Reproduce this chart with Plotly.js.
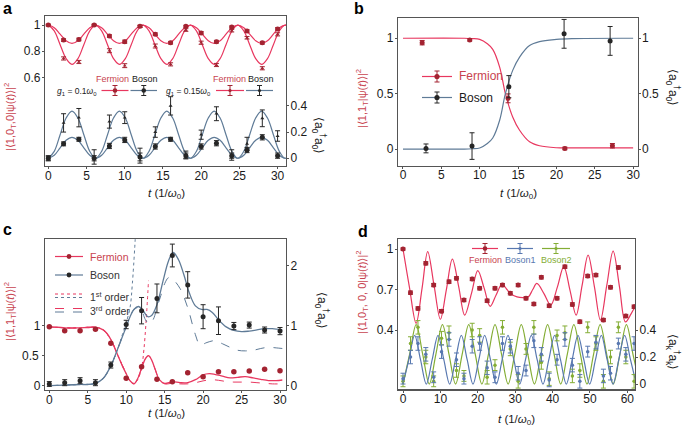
<!DOCTYPE html>
<html lang="en">
<head>
<meta charset="UTF-8">
<title>Fermion and boson dynamics</title>
<script src="https://cdn.plot.ly/plotly-3.0.1.min.js"></script>
<style>
  html, body { margin: 0; padding: 0; background: #fff; }
  #chart { width: 685px; height: 428px; }
</style>
</head>
<body>
<div id="chart"></div>
<script>
// ---------- panel a ----------
const aFitT = [0, 0.78, 1.55, 2.33, 3.1, 3.88, 4.65, 5.43, 6.2, 6.98, 7.75, 8.53, 9.3, 10.08, 10.85, 11.63, 12.4, 13.18, 13.95, 14.73, 15.5, 16.28, 17.05, 17.83, 18.6, 19.38, 20.15, 20.93, 21.7, 22.48, 23.25, 24.03, 24.8, 25.58, 26.35, 27.13, 27.9, 28.68, 29.45, 30.23, 31.0, 31.78];
const aFermFit1 = [1, 0.98, 0.93, 0.88, 0.86, 0.88, 0.93, 0.98, 1, 0.98, 0.93, 0.88, 0.86, 0.88, 0.93, 0.98, 1, 0.98, 0.93, 0.88, 0.86, 0.88, 0.93, 0.98, 1, 0.98, 0.93, 0.88, 0.86, 0.88, 0.93, 0.98, 1, 0.98, 0.93, 0.88, 0.86, 0.88, 0.93, 0.98, 1, 0.98];
const aFermFit2 = [1, 0.956, 0.85, 0.744, 0.7, 0.744, 0.85, 0.956, 1, 0.956, 0.85, 0.744, 0.7, 0.744, 0.85, 0.956, 1, 0.956, 0.85, 0.744, 0.7, 0.744, 0.85, 0.956, 1, 0.956, 0.85, 0.744, 0.7, 0.744, 0.85, 0.956, 1, 0.956, 0.85, 0.744, 0.7, 0.744, 0.85, 0.956, 1, 0.956];
const aBosFit1 = [0, 0.023, 0.08, 0.137, 0.16, 0.137, 0.08, 0.023, 0, 0.023, 0.08, 0.137, 0.16, 0.137, 0.08, 0.023, 0, 0.023, 0.08, 0.137, 0.16, 0.137, 0.08, 0.023, 0, 0.023, 0.08, 0.137, 0.16, 0.137, 0.08, 0.023, 0, 0.023, 0.08, 0.137, 0.16, 0.137, 0.08, 0.023, 0, 0.023];
const aBosFit2 = [0, 0.053, 0.18, 0.307, 0.36, 0.307, 0.18, 0.053, 0, 0.053, 0.18, 0.307, 0.36, 0.307, 0.18, 0.053, 0, 0.053, 0.18, 0.307, 0.36, 0.307, 0.18, 0.053, 0, 0.053, 0.18, 0.307, 0.36, 0.307, 0.18, 0.053, 0, 0.053, 0.18, 0.307, 0.36, 0.307, 0.18, 0.053, 0, 0.053];

const aT = [0, 2, 4, 6, 8, 10, 12, 14, 16, 18, 20, 22, 24, 26, 28, 30];
const aFerm1 = [1.0, 0.885, 0.89, 1.0, 0.916, 0.873, 0.99, 0.93, 0.865, 0.99, 0.94, 0.873, 0.985, 0.954, 0.865, 0.97];
const aFerm1Err = [0.006, 0.01, 0.01, 0.006, 0.01, 0.012, 0.008, 0.01, 0.01, 0.008, 0.01, 0.01, 0.008, 0.01, 0.01, 0.01];
const aFerm2 = [1.0, 0.745, 0.718, 1.0, 0.804, 0.69, 0.99, 0.84, 0.7, 0.962, 0.865, 0.695, 0.957, 0.903, 0.67, 0.929];
const aFerm2Err = [0.006, 0.012, 0.012, 0.006, 0.015, 0.015, 0.008, 0.015, 0.012, 0.01, 0.012, 0.012, 0.01, 0.01, 0.012, 0.012];
const aBos1 = [0, 0.11, 0.145, 0, 0.094, 0.14, 0.01, 0.09, 0.145, 0.02, 0.09, 0.115, 0.02, 0.063, 0.16, 0.02];
const aBos1Err = [0.015, 0.015, 0.015, 0.02, 0.02, 0.02, 0.03, 0.02, 0.015, 0.02, 0.02, 0.02, 0.02, 0.02, 0.02, 0.02];
const aBos2 = [0, 0.27, 0.31, 0.01, 0.28, 0.31, 0.02, 0.2, 0.4, 0.025, 0.18, 0.34, 0.025, 0.11, 0.305, 0.17];
const aBos2Err = [0.02, 0.07, 0.07, 0.055, 0.05, 0.045, 0.057, 0.04, 0.07, 0.03, 0.035, 0.053, 0.04, 0.05, 0.064, 0.04];

// ---------- panel b ----------
const bFitT = [0, 8, 9, 10, 11, 11.7, 12.6, 13.35, 14.3, 15.2, 16.5, 17.8, 20, 22, 30];
const bFermFit = [1, 1, 0.997, 0.99, 0.95, 0.9, 0.74, 0.5, 0.29, 0.17, 0.066, 0.03, 0.012, 0.01, 0.01];
const bBosFit = [0, 0, 0.003, 0.01, 0.05, 0.1, 0.26, 0.5, 0.71, 0.83, 0.934, 0.97, 0.99, 0.997, 1];
const bFermT = [2.5, 8.7, 13.7, 21.1, 27.3];
const bFerm = [0.96, 0.985, 0.458, 0.006, 0.03];
const bFermErr = [0.02, 0.01, 0.04, 0.012, 0.02];
const bBosT = [3, 9, 13.8, 21, 27];
const bBos = [0.006, 0.027, 0.563, 1.04, 0.976];
const bBosErr = [0.04, 0.12, 0.1, 0.13, 0.13];

// ---------- panel c ----------
const cT = [0, 2, 4, 6, 8, 10, 12, 14, 16, 18, 20, 22, 24, 26, 28, 30];
const cFerm = [0.983, 0.917, 0.917, 0.94, 0.706, 0.122, 0.317, 0.106, 0.067, 0.217, 0.15, 0.233, 0.233, 0.244, 0.272, 0.25];
const cBos = [0.028, 0.05, 0.083, 0.05, 0.344, 1.02, 1.25, 1.455, 2.17, 1.68, 1.15, 1.083, 0.994, 1.01, 0.928, 0.91];
const cBosErr = [0.04, 0.05, 0.05, 0.05, 0.05, 0.07, 0.22, 0.24, 0.19, 0.22, 0.2, 0.23, 0.06, 0.05, 0.05, 0.06];

const cFermFitT = [0, 1, 2, 3, 4, 5, 6, 7, 7.5, 8, 8.5, 9, 9.5, 10, 10.5, 11, 11.5, 12, 12.5, 12.9, 13.3, 13.8, 14.3, 15, 16, 17, 18, 19, 20, 20.8, 21.5, 22.5, 23.5, 24.5, 25.5, 26.5, 27.5, 28.5, 29.5, 30.3];
const cFermFit = [0.98, 0.975, 0.965, 0.96, 0.965, 0.97, 0.975, 0.93, 0.87, 0.77, 0.63, 0.48, 0.33, 0.2, 0.08, 0.03, 0.12, 0.29, 0.45, 0.5, 0.43, 0.26, 0.1, 0.04, 0.067, 0.05, 0.05, 0.1, 0.18, 0.2, 0.19, 0.16, 0.13, 0.14, 0.15, 0.13, 0.105, 0.085, 0.085, 0.095];
const cFerm3T = [0, 2, 4, 6, 7, 8, 9, 10, 10.5, 11, 11.5, 12, 12.5, 12.9, 13.3, 13.8, 14.3, 15, 16, 17, 18, 19, 20, 21, 22, 23, 24, 25, 26, 27, 28, 29, 30.3];
const cFerm3 = [0.98, 0.965, 0.965, 0.975, 0.93, 0.77, 0.48, 0.2, 0.08, 0.03, 0.12, 0.29, 0.45, 0.5, 0.43, 0.26, 0.1, 0.03, 0.04, 0.03, 0.03, 0.05, 0.08, 0.1, 0.09, 0.07, 0.06, 0.06, 0.06, 0.05, 0.04, 0.03, 0.03];
const cFerm1T = [0, 2, 4, 6, 7, 8, 9, 10, 10.5, 11, 11.5, 12, 12.3, 12.6, 12.9];
const cFerm1 = [0.98, 0.965, 0.965, 0.975, 0.93, 0.77, 0.48, 0.2, 0.08, 0.04, 0.1, 0.3, 0.6, 1.1, 1.75];

const cBosFitT = [0, 2, 4, 5, 6, 7, 8, 9, 10, 10.5, 11, 11.6, 12.2, 12.8, 13.3, 14, 14.8, 15.5, 16.1, 16.8, 17.5, 18.2, 19, 19.8, 20.5, 21.2, 22, 23, 24, 25, 26, 27, 28, 29, 30.3];
const cBosFit = [0, 0.01, 0.02, 0.02, 0.04, 0.12, 0.33, 0.65, 0.98, 1.15, 1.27, 1.32, 1.25, 1.15, 1.17, 1.35, 1.75, 2.08, 2.22, 2.1, 1.85, 1.55, 1.33, 1.27, 1.27, 1.22, 1.1, 0.98, 0.92, 0.9, 0.91, 0.93, 0.95, 0.95, 0.93];
const cBos3T = [0, 2, 4, 5, 6, 7, 8, 9, 10, 10.5, 11, 11.5, 12, 12.5, 13, 13.5, 14, 14.5, 15, 15.5, 16, 17, 18, 19, 19.6, 20.5, 21.5, 22.5, 23.5, 24.5, 25.5, 26.5, 27.5, 28.5, 29.5, 30.3];
const cBos3 = [0, 0.01, 0.02, 0.02, 0.04, 0.12, 0.33, 0.65, 0.98, 1.15, 1.27, 1.3, 1.25, 1.1, 1.03, 1.1, 1.3, 1.5, 1.7, 1.8, 1.78, 1.62, 1.3, 0.85, 0.68, 0.72, 0.75, 0.7, 0.64, 0.59, 0.58, 0.59, 0.62, 0.64, 0.63, 0.62];
const cBos1T = [0, 2, 4, 6, 7, 8, 9, 9.5, 10, 10.5, 10.8, 11.2];
const cBos1 = [0, 0.01, 0.02, 0.04, 0.12, 0.33, 0.65, 0.85, 1.05, 1.3, 1.7, 2.5];

// ---------- panel d ----------
const dT = [0, 2, 4, 6.1, 8.2, 10.3, 12.3, 14.3, 16.3, 18.5, 20.5, 22.5, 24.6, 26.6, 28.7, 30.8, 32.9, 35, 37, 39.1, 41.2, 43.3, 45.3, 47.3, 49.4, 51.6, 53.6, 55.5, 57.6, 59.6, 61.8];
const dFerm = [1.0, 0.677, 0.56, 0.894, 0.733, 0.54, 0.758, 0.783, 0.622, 0.778, 0.709, 0.617, 0.709, 0.733, 0.672, 0.733, 0.635, 0.593, 0.79, 0.58, 0.635, 0.869, 0.59, 0.462, 0.8, 0.807, 0.474, 0.716, 0.864, 0.504, 0.573];
const dFermErr = [0.008, 0.012, 0.012, 0.012, 0.012, 0.012, 0.012, 0.012, 0.012, 0.012, 0.012, 0.012, 0.012, 0.012, 0.012, 0.012, 0.012, 0.012, 0.012, 0.012, 0.012, 0.012, 0.012, 0.012, 0.012, 0.012, 0.012, 0.012, 0.012, 0.012, 0.012];
const dBos1 = [0.04, 0.2, 0.3, 0.22, 0.05, 0.24, 0.33, 0.18, 0.04, 0.28, 0.3, 0.12, 0.05, 0.3, 0.28, 0.08, 0.1, 0.32, 0.22, 0.03, 0.18, 0.33, 0.14, 0.02, 0.24, 0.31, 0.06, 0.08, 0.3, 0.22, 0.3];
const dBos1Err = [0.04, 0.05, 0.05, 0.05, 0.04, 0.05, 0.05, 0.05, 0.04, 0.05, 0.05, 0.05, 0.04, 0.05, 0.05, 0.05, 0.04, 0.05, 0.05, 0.05, 0.04, 0.05, 0.05, 0.05, 0.04, 0.05, 0.05, 0.05, 0.04, 0.05, 0.05];
const dBos2 = [0.02, 0.3, 0.42, 0.2, 0.02, 0.34, 0.38, 0.1, 0.06, 0.4, 0.36, 0.05, 0.14, 0.42, 0.26, 0.02, 0.26, 0.42, 0.16, 0.04, 0.36, 0.38, 0.06, 0.1, 0.42, 0.3, 0.02, 0.2, 0.42, 0.2, 0.02];
const dBos2Err = [0.04, 0.05, 0.05, 0.05, 0.04, 0.05, 0.05, 0.05, 0.04, 0.05, 0.05, 0.05, 0.04, 0.05, 0.05, 0.05, 0.04, 0.05, 0.05, 0.05, 0.04, 0.05, 0.05, 0.05, 0.04, 0.05, 0.05, 0.05, 0.04, 0.05, 0.05];

const dFermFitT = [0, 1.7, 3.5, 5.1, 6.6, 8.3, 10, 11.6, 13.2, 14.9, 16.5, 18.3, 20, 21.7, 23.3, 24.9, 26.5, 27.8, 29, 30.5, 32, 33.5, 34.7, 35.8, 37.7, 39.5, 41.3, 43, 44.7, 46.3, 47.9, 49.5, 51.2, 52.8, 54.5, 56.2, 57.9, 59.5, 61, 62.2];
const dFermFit = [1.0, 0.72, 0.45, 0.71, 0.98, 0.73, 0.48, 0.7, 0.925, 0.72, 0.51, 0.67, 0.84, 0.71, 0.575, 0.66, 0.74, 0.7, 0.665, 0.645, 0.64, 0.645, 0.7, 0.745, 0.67, 0.585, 0.72, 0.87, 0.69, 0.51, 0.73, 0.955, 0.72, 0.474, 0.73, 0.985, 0.72, 0.46, 0.52, 0.58];
const dBos1FitT = [0, 1.56, 3.12, 4.68, 6.24, 7.8, 9.36, 10.92, 12.48, 14.04, 15.6, 17.16, 18.72, 20.28, 21.84, 23.4, 24.96, 26.52, 28.08, 29.64, 31.2, 32.76, 34.32, 35.88, 37.44, 39.0, 40.56, 42.12, 43.68, 45.24, 46.8, 48.36, 49.92, 51.48, 53.04, 54.6, 56.16, 57.72, 59.28, 60.84, 62.4];
const dBos1Fit = [0, 0.18, 0.36, 0.18, 0, 0.18, 0.36, 0.18, 0, 0.18, 0.36, 0.18, 0, 0.18, 0.36, 0.18, 0, 0.18, 0.36, 0.18, 0, 0.18, 0.36, 0.18, 0, 0.18, 0.36, 0.18, 0, 0.18, 0.36, 0.18, 0, 0.18, 0.36, 0.18, 0, 0.18, 0.36, 0.18, 0];
const dBos2FitT = [0, 1.76, 3.52, 5.27, 7.03, 8.79, 10.55, 12.3, 14.06, 15.82, 17.58, 19.33, 21.09, 22.85, 24.61, 26.36, 28.12, 29.88, 31.64, 33.39, 35.15, 36.91, 38.67, 40.42, 42.18, 43.94, 45.7, 47.45, 49.21, 50.97, 52.73, 54.48, 56.24, 58.0, 59.76, 61.51, 63.27];
const dBos2Fit = [0, 0.22, 0.44, 0.22, 0, 0.22, 0.44, 0.22, 0, 0.22, 0.44, 0.22, 0, 0.22, 0.44, 0.22, 0, 0.22, 0.44, 0.22, 0, 0.22, 0.44, 0.22, 0, 0.22, 0.44, 0.22, 0, 0.22, 0.44, 0.22, 0, 0.22, 0.44, 0.22, 0];

// colours
const RED = '#e8375f';
const RED_DOT = '#a32331';
const RED_TXT = '#c8434f';
const SLATE = '#5f7b97';
const DARK = '#262626';
const B1 = '#5878b0';
const B2 = '#84ad35';

const W = 685, H = 428;
const FONT = 'Liberation Sans, Arial, sans-serif';
const px = x => x / W;
const py = y => 1 - y / H;

function fit(x, y, color, xa, ya, dash, width) {
  return { x: x, y: y, xaxis: xa, yaxis: ya, type: 'scatter', mode: 'lines',
    line: { color: color, width: width || 1.2, shape: 'spline', dash: dash || 'solid' },
    hoverinfo: 'skip', showlegend: false };
}
function pts(x, y, err, color, xa, ya, size, symbol) {
  const t = { x: x, y: y, xaxis: xa, yaxis: ya, type: 'scatter', mode: 'markers',
    marker: { color: color, size: size || 5, symbol: symbol || 'circle' },
    showlegend: false };
  if (err) t.error_y = { type: 'data', array: err, color: color, thickness: 1, width: 2.5 };
  return t;
}

const data = [
  // a
  fit(aFitT, aFermFit1, RED, 'x', 'y'),
  fit(aFitT, aFermFit2, RED, 'x', 'y'),
  fit(aFitT, aBosFit1, SLATE, 'x', 'y2'),
  fit(aFitT, aBosFit2, SLATE, 'x', 'y2'),
  pts(aT, aFerm1, aFerm1Err, RED_DOT, 'x', 'y', 5),
  pts(aT, aFerm2, aFerm2Err, RED_DOT, 'x', 'y', 3.5, 'triangle-up'),
  pts(aT, aBos1, aBos1Err, DARK, 'x', 'y2', 5),
  pts(aT, aBos2, aBos2Err, DARK, 'x', 'y2', 3.5, 'triangle-up'),
  // b
  fit(bFitT, bFermFit, RED, 'x2', 'y3'),
  fit(bFitT, bBosFit, SLATE, 'x2', 'y4'),
  pts(bFermT, bFerm, bFermErr, RED_DOT, 'x2', 'y3', 5),
  pts(bBosT, bBos, bBosErr, DARK, 'x2', 'y4', 5),
  // c
  fit(cFerm1T, cFerm1, RED, 'x3', 'y5', 'dot', 1),
  fit(cFerm3T, cFerm3, RED, 'x3', 'y5', 'dash', 1),
  fit(cFermFitT, cFermFit, RED, 'x3', 'y5', 'solid', 1.3),
  fit(cBos1T, cBos1, SLATE, 'x3', 'y6', 'dot', 1),
  fit(cBos3T, cBos3, SLATE, 'x3', 'y6', 'dash', 1),
  fit(cBosFitT, cBosFit, SLATE, 'x3', 'y6', 'solid', 1.3),
  pts(cT, cFerm, null, RED_DOT, 'x3', 'y5', 5.5),
  pts(cT, cBos, cBosErr, DARK, 'x3', 'y6', 5),
  // d
  fit(dBos2FitT, dBos2Fit, B2, 'x4', 'y8'),
  fit(dBos1FitT, dBos1Fit, B1, 'x4', 'y8'),
  fit(dFermFitT, dFermFit, RED, 'x4', 'y7'),
  pts(dT, dBos2, dBos2Err, B2, 'x4', 'y8', 3.5),
  pts(dT, dBos1, dBos1Err, B1, 'x4', 'y8', 3.5),
  pts(dT, dFerm, dFermErr, RED_DOT, 'x4', 'y7', 5)
];

const tickFont = { family: FONT, size: 12, color: '#1a1a1a' };
function xax(dom, anchor, range, step) {
  return { domain: dom, anchor: anchor, range: range, dtick: step, tick0: 0,
    showgrid: false, zeroline: false, showline: true, mirror: true, linecolor: '#555', linewidth: 1.2,
    ticks: 'outside', ticklen: 2, tickcolor: '#555', tickfont: tickFont, ticklabelstandoff: -4,
    ticklabeloverflow: 'allow' };
}
function yax(dom, anchor, range, vals, labels) {
  return { domain: dom, anchor: anchor, range: range, tickmode: 'array', tickvals: vals,
    ticktext: labels || vals.map(String), ticklabeloverflow: 'allow',
    showgrid: false, zeroline: false, showline: true, linecolor: '#555', linewidth: 1.2,
    ticks: 'outside', ticklen: 2, tickcolor: '#555', tickfont: tickFont, ticklabelstandoff: -1 };
}
function yaxR(over, anchor, range, vals) {
  const a = yax(undefined, anchor, range, vals);
  delete a.domain;
  a.overlaying = over;
  a.side = 'right';
  return a;
}

const domAx = [px(45), px(286)], domBx = [px(398), px(637.5)];
const domDx = [px(398), px(635)];

// annotations
const ann = [];
function txt(x, y, s, opts) {
  ann.push(Object.assign({ xref: 'paper', yref: 'paper', x: px(x), y: py(y), text: s, showarrow: false,
    xanchor: 'center', yanchor: 'middle', font: { family: FONT, size: 12, color: '#1a1a1a' } }, opts || {}));
}
const tTitle = '<i>t</i> (1/<i>ω</i><sub>0</sub>)';
const nTitle = '⟨a<sub>0</sub><sup>†</sup>a<sub>0</sub>⟩';
const fTitle = () => ({ textangle: -90, font: { family: FONT, size: 11, color: RED_TXT } });
const xtFont = { font: { family: FONT, size: 11.5, color: '#1a1a1a' } };
// panel letters
[['a', 8, 8], ['b', 359, 8], ['c', 8, 229], ['d', 363, 232]].forEach(l =>
  txt(l[1], l[2], '<b>' + l[0] + '</b>', { font: { family: FONT, size: 16, color: '#000' } }));
// axis titles
txt(166, 194, tTitle, xtFont);
txt(518, 194, tTitle, xtFont);
txt(166, 414, tTitle, xtFont);
txt(516, 420, tTitle, xtFont);
txt(10, 117, '|⟨1,0<sub>T</sub>,0|ψ(<i>t</i>)⟩|<sup>2</sup>', fTitle());
txt(362, 99, '|⟨1,1<sub>T</sub>|ψ(<i>t</i>)⟩|<sup>2</sup>', fTitle());
txt(10, 312, '|⟨1,1<sub>T</sub>|ψ(<i>t</i>)⟩|<sup>2</sup>', fTitle());
txt(362, 292, '|⟨1,0<sub>T</sub>, 0, 0|ψ(<i>t</i>)⟩|<sup>2</sup>', fTitle());
txt(319, 135, nTitle, { textangle: 90 });
txt(673, 87, nTitle, { textangle: 90 });
txt(322, 310, nTitle, { textangle: 90 });
txt(673, 352, '⟨a<sub>k</sub><sup>†</sup>a<sub>k</sub>⟩', { textangle: 90 });
// middle tick label of panel c's left axis (0.5 sits 60 px above 0)
txt(41, 355.7, '0.5', { xanchor: 'right', font: tickFont });

// legend drawings
const shapes = [];
function seg(x0, y0, x1, y1, color, dash, w) {
  shapes.push({ type: 'line', xref: 'paper', yref: 'paper', x0: px(x0), y0: py(y0), x1: px(x1), y1: py(y1),
    line: { color: color, width: w || 1.2, dash: dash || 'solid' } });
}
function dot(x, y, r, color) {
  shapes.push({ type: 'circle', xref: 'paper', yref: 'paper', x0: px(x - r), x1: px(x + r), y0: py(y + r), y1: py(y - r),
    fillcolor: color, line: { color: color, width: 0 } });
}
function sample(x0, x1, y, lineColor, markColor, eh, r) {
  seg(x0, y, x1, y, lineColor);
  const xc = (x0 + x1) / 2;
  if (eh) {
    seg(xc, y - eh, xc, y + eh, markColor, 'solid', 1);
    seg(xc - 2.5, y - eh, xc + 2.5, y - eh, markColor, 'solid', 1);
    seg(xc - 2.5, y + eh, xc + 2.5, y + eh, markColor, 'solid', 1);
  }
  dot(xc, y, r || 2.3, markColor);
}
const legFont = (c, s) => ({ family: FONT, size: s || 9, color: c });
// a
txt(113, 79, 'Fermion', { font: legFont(RED_TXT) });
txt(145, 79, 'Boson', { font: legFont('#1a1a1a') });
sample(101.5, 128.5, 90.5, RED, RED_DOT, 5, 2.3);
sample(130.5, 157, 90.5, SLATE, DARK, 5, 2.3);
txt(99, 91, '<i>g</i><sub>1</sub> = 0.1<i>ω</i><sub>0</sub>', { xanchor: 'right', font: legFont('#1a1a1a', 8.5) });
txt(229, 79, 'Fermion', { font: legFont(RED_TXT) });
txt(261, 79, 'Boson', { font: legFont('#1a1a1a') });
sample(216, 244, 90.5, RED, RED_DOT, 5, 1.6);
sample(246, 273, 90.5, SLATE, DARK, 5, 1.6);
txt(213, 91, '<i>g</i><sub>1</sub> = 0.15<i>ω</i><sub>0</sub>', { xanchor: 'right', font: legFont('#1a1a1a', 8.5) });
// b
sample(422, 452, 76.5, RED, RED_DOT, 5.5, 2.6);
sample(422, 452, 97.5, SLATE, DARK, 5.5, 2.6);
txt(457, 76.5, 'Fermion', { xanchor: 'left', font: legFont(RED_TXT, 12) });
txt(457, 97.5, 'Boson', { xanchor: 'left', font: legFont('#1a1a1a', 12) });
// c
sample(55, 83, 256.5, RED, RED_DOT, 0, 2.4);
sample(55, 83, 275, SLATE, DARK, 0, 2.4);
txt(88, 256.5, 'Fermion', { xanchor: 'left', font: legFont(RED_TXT, 10.5) });
txt(88, 275, 'Boson', { xanchor: 'left', font: legFont('#333', 10.5) });
seg(55, 294, 83, 294, RED, 'dot', 1);
seg(55, 297.5, 83, 297.5, SLATE, 'dot', 1);
seg(55, 308.5, 83, 308.5, RED, 'dash', 1);
seg(55, 312, 83, 312, SLATE, 'dash', 1);
txt(88, 296, '1<sup>st</sup> order', { xanchor: 'left', font: legFont('#333', 10.5) });
txt(88, 310, '3<sup>rd</sup> order', { xanchor: 'left', font: legFont('#333', 10.5) });
// d
sample(472, 498, 248.5, RED, RED_DOT, 5, 2.3);
sample(507, 533, 248.5, B1, B1, 5, 1.6);
sample(542, 570, 248.5, B2, B2, 5, 1.6);
txt(485, 260, 'Fermion', { font: legFont(RED_TXT) });
txt(520, 260, 'Boson1', { font: legFont(B1) });
txt(556, 260, 'Boson2', { font: legFont(B2) });

const layout = {
  width: W, height: H,
  margin: { l: 0, r: 0, t: 0, b: 0 },
  paper_bgcolor: '#fff', plot_bgcolor: 'rgba(0,0,0,0)',
  showlegend: false,
  font: { family: FONT },
  xaxis: xax(domAx, 'y', [-0.43, 31.1], 5),
  yaxis: yax([py(166), py(16)], 'x', [-0.076, 1.069], [0.6, 0.8, 1]),
  yaxis2: yaxR('y', 'x', [-0.059, 1.086], [0, 0.2, 0.4]),
  xaxis2: xax(domBx, 'y3', [-0.65, 30.57], 5),
  yaxis3: yax([py(165.7), py(18.3)], 'x2', [-0.15, 1.18], [0, 0.5, 1]),
  yaxis4: yaxR('y3', 'x2', [-0.15, 1.18], [0, 0.5, 1]),
  xaxis3: xax(domAx, 'y5', [-0.56, 30.78], 5),
  yaxis5: yax([py(390), py(239.3)], 'x3', [-0.072, 2.44], [0, 0.5, 1], ['0', '', '1']),
  yaxis6: yaxR('y5', 'x3', [-0.072, 2.44], [0, 1, 2]),
  xaxis4: xax(domDx, 'y7', [-1.34, 62.05], 10),
  yaxis7: yax([py(389.3), py(239.3)], 'x4', [-0.039, 1.072], [0.4, 0.7, 1]),
  yaxis8: yaxR('y7', 'x4', [-0.039, 1.072], [0, 0.2, 0.4]),
  annotations: ann,
  shapes: shapes
};

Plotly.newPlot('chart', data, layout, { displayModeBar: false, staticPlot: true });
</script>
</body>
</html>
